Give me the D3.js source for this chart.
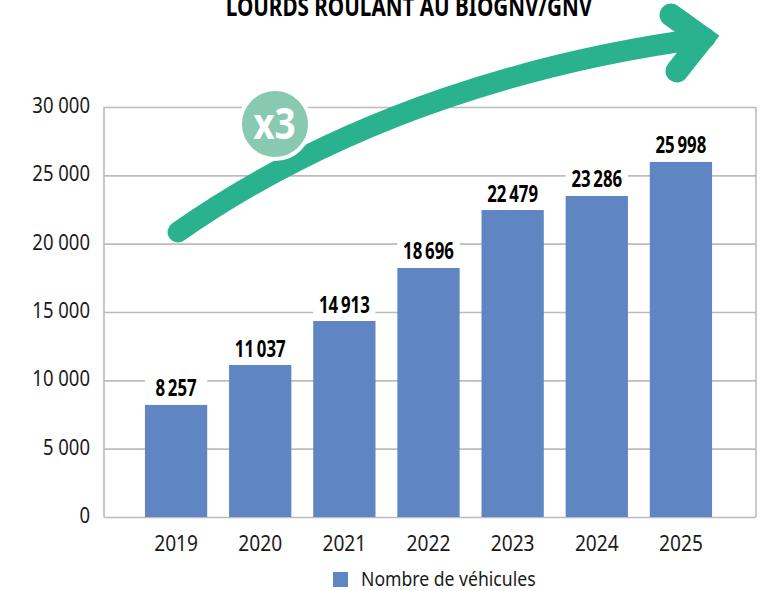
<!DOCTYPE html>
<html>
<head>
<meta charset="utf-8">
<script src="https://cdn.jsdelivr.net/npm/d3@7"></script>
<style>
body { margin: 0; background: #fff; }
svg { display: block; }
.tick text, .legendLabel { font-family: "Noto Sans", sans-serif; fill: #1a1a1a; }
.valueLabel, .title { font-family: "Noto Sans", sans-serif; font-weight: bold; fill: #000; }
</style>
</head>
<body>
<div id="chart"></div>
<script>
var years = ['2019', '2020', '2021', '2022', '2023', '2024', '2025'];
// printed labels
var vehicles = [8257, 11037, 14913, 18696, 22479, 23286, 25998];
// bar heights as drawn in the picture, they do not always agree with the labels
var barHeights = [8200, 11120, 14340, 18220, 22460, 23490, 25980];
var yTicks = [0, 5000, 10000, 15000, 20000, 25000, 30000];
var titleText = 'LOURDS ROULANT AU BIOGNV/GNV';
var seriesName = 'Nombre de véhicules';

var width = 776, height = 591;
var barColour = '#5f85c2', green = '#2ab28f', gridColour = '#bcbcbc';

var svg = d3.select('#chart').append('svg')
    .attr('width', width)
    .attr('height', height);

// bars do not fill the plot frame, the band range is narrower
var x = d3.scaleBand().domain(years).range([134, 723]).paddingInner(0.26).paddingOuter(0.13);
var y = d3.scaleLinear().domain([0, 30000]).range([517, 107]);
var frameLeft = 104, frameRight = 756;

var fmt = d => d3.format(',')(d).replace(',', '\u2009');

// no condensed font installed, so squeeze the text by a factor
function squeeze(selection, k) {
    selection.each(function () {
        d3.select(this)
            .attr('textLength', this.getComputedTextLength() * k)
            .attr('lengthAdjust', 'spacingAndGlyphs');
    });
}

// frame and gridlines
var yAxis = d3.axisLeft(y)
    .tickValues(yTicks)
    .tickSize(-(frameRight - frameLeft))
    .tickFormat(d => d3.format(',')(d).replace(',', ' '));

var yG = svg.append('g')
    .attr('transform', `translate(${frameLeft}, 0)`)
    .call(yAxis);
yG.select('.domain').remove();
yG.selectAll('.tick line').attr('stroke', gridColour).attr('stroke-width', 1.6);
yG.selectAll('.tick text')
    .attr('x', -14)
    .attr('dy', '0.26em')
    .style('font-size', '21px')
    .call(squeeze, 0.88);

svg.append('line').attr('x1', frameLeft).attr('x2', frameLeft).attr('y1', y(30000)).attr('y2', y(0))
    .attr('stroke', gridColour).attr('stroke-width', 1.6);
svg.append('line').attr('x1', frameRight).attr('x2', frameRight).attr('y1', y(30000)).attr('y2', y(0))
    .attr('stroke', gridColour).attr('stroke-width', 1.6);

// white boxes behind the value labels cut the gridlines
svg.selectAll('rect.labelBack')
    .data(barHeights)
    .enter()
    .append('rect')
    .attr('class', 'labelBack')
    .attr('x', (d, i) => x(years[i]))
    .attr('y', d => y(d) - 28)
    .attr('width', x.bandwidth())
    .attr('height', 28)
    .attr('fill', '#fff');

svg.selectAll('rect.bar')
    .data(barHeights)
    .enter()
    .append('rect')
    .attr('class', 'bar')
    .attr('x', (d, i) => x(years[i]))
    .attr('y', d => y(d))
    .attr('width', x.bandwidth())
    .attr('height', d => y(0) - y(d))
    .attr('fill', barColour);

svg.selectAll('text.valueLabel')
    .data(vehicles)
    .enter()
    .append('text')
    .attr('class', 'valueLabel')
    .attr('x', (d, i) => x(years[i]) + x.bandwidth() / 2)
    .attr('y', (d, i) => y(barHeights[i]) - 8.5)
    .attr('text-anchor', 'middle')
    .style('font-size', '23px')
    .text(fmt)
    .call(squeeze, 0.73);

var xAxis = d3.axisBottom(x).tickSize(0).tickPadding(18);
var xG = svg.append('g')
    .attr('transform', `translate(0, ${y(0)})`)
    .call(xAxis);
xG.select('.domain').remove();
xG.selectAll('.tick text')
    .style('font-size', '22px')
    .call(squeeze, 0.87);

// growth arrow
var arrow = d3.path();
arrow.moveTo(178, 232);
arrow.bezierCurveTo(348, 113, 545, 59, 705, 38);
svg.append('path')
    .attr('d', arrow.toString())
    .attr('fill', 'none')
    .attr('stroke', green)
    .attr('stroke-width', 21)
    .attr('stroke-linecap', 'round');
svg.append('path')
    .attr('d', d3.line()([[671, 15], [703, 38], [677, 71]]))
    .attr('fill', 'none')
    .attr('stroke', green)
    .attr('stroke-width', 23)
    .attr('stroke-linecap', 'round')
    .attr('stroke-linejoin', 'miter');

// x3 badge
svg.append('circle')
    .attr('cx', 275)
    .attr('cy', 124)
    .attr('r', 35)
    .attr('fill', '#88c9b2')
    .attr('stroke', '#fff')
    .attr('stroke-width', 4);
svg.append('text')
    .attr('x', 274.5)
    .attr('y', 138.5)
    .attr('text-anchor', 'middle')
    .attr('class', 'valueLabel')
    .style('fill', '#fff')
    .style('font-size', '43px')
    .text('x3')
    .call(squeeze, 0.86);

// title runs off the top edge in the original
svg.append('text')
    .attr('class', 'title')
    .attr('x', 409)
    .attr('y', 16)
    .attr('text-anchor', 'middle')
    .style('font-size', '26px')
    .text(titleText)
    .call(squeeze, 0.795);

// legend
svg.append('rect')
    .attr('x', 333).attr('y', 572)
    .attr('width', 15).attr('height', 15)
    .attr('fill', barColour);
svg.append('text')
    .attr('class', 'legendLabel')
    .attr('x', 361)
    .attr('y', 586)
    .style('font-size', '20px')
    .text(seriesName)
    .call(squeeze, 0.88);
</script>
</body>
</html>
